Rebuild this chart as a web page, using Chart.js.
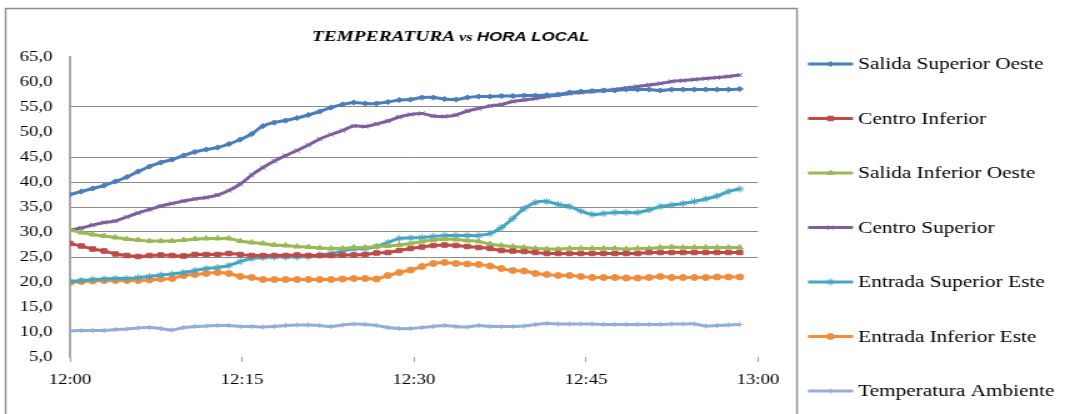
<!DOCTYPE html>
<html>
<head>
<meta charset="utf-8">
<title>Temperatura vs Hora Local</title>
<script src="https://cdn.jsdelivr.net/npm/chart.js@4.4.0/dist/chart.umd.min.js"></script>
<style>
  html, body { margin: 0; padding: 0; background: #fff; overflow: hidden; }
  canvas { display: block; }
</style>
</head>
<body>
<!-- The drawing is made on a narrower canvas and widened by CSS, giving the wide lettering of the original report figure -->
<canvas id="chart" width="856" height="414" style="width:1070px;height:414px"></canvas>
<script>
// Logged readings, one per logger interval, starting at 12:00
const LOG_INTERVAL_MIN = 0.99;

const salidaSuperiorOeste = [
  37.5, 38.1, 38.7, 39.3, 40.1, 41.0, 42.1, 43.1, 43.9, 44.5,
  45.3, 46.0, 46.5, 46.9, 47.6, 48.5, 49.6, 51.2, 51.9, 52.3,
  52.8, 53.4, 54.1, 54.9, 55.5, 55.9, 55.7, 55.7, 56.0, 56.4,
  56.5, 56.9, 56.9, 56.6, 56.5, 56.9, 57.1, 57.1, 57.2, 57.2,
  57.3, 57.3, 57.4, 57.5, 57.9, 58.1, 58.2, 58.3, 58.3, 58.5,
  58.5, 58.5, 58.3, 58.5, 58.5, 58.5, 58.5, 58.5, 58.5, 58.6
];
const centroInferior = [
  27.7, 27.2, 26.6, 26.2, 25.6, 25.3, 25.1, 25.3, 25.4, 25.3,
  25.2, 25.5, 25.5, 25.5, 25.7, 25.5, 25.3, 25.3, 25.3, 25.3,
  25.4, 25.3, 25.3, 25.3, 25.4, 25.4, 25.5, 25.8, 25.9, 26.3,
  26.7, 27.0, 27.3, 27.4, 27.3, 27.1, 26.9, 26.7, 26.3, 26.2,
  26.1, 25.9, 25.7, 25.7, 25.7, 25.7, 25.7, 25.7, 25.7, 25.7,
  25.7, 25.9, 25.9, 25.9, 25.9, 25.9, 25.9, 25.9, 25.9, 25.9
];
const salidaInferiorOeste = [
  30.4, 29.9, 29.5, 29.2, 28.9, 28.6, 28.4, 28.2, 28.2, 28.2,
  28.4, 28.6, 28.7, 28.7, 28.7, 28.2, 27.9, 27.7, 27.4, 27.3,
  27.1, 27.0, 26.8, 26.7, 26.7, 26.9, 26.9, 27.1, 27.2, 27.4,
  27.7, 28.1, 28.4, 28.6, 28.5, 28.3, 28.1, 27.6, 27.3, 27.1,
  26.9, 26.7, 26.6, 26.6, 26.7, 26.7, 26.7, 26.7, 26.7, 26.6,
  26.7, 26.7, 26.9, 27.0, 26.9, 26.9, 26.9, 26.9, 26.9, 26.9
];
const centroSuperior = [
  30.4, 30.8, 31.4, 31.9, 32.2, 33.0, 33.8, 34.5, 35.2, 35.7,
  36.2, 36.6, 36.9, 37.4, 38.3, 39.6, 41.4, 42.9, 44.2, 45.3,
  46.3, 47.4, 48.6, 49.5, 50.3, 51.2, 51.1, 51.6, 52.2, 53.0,
  53.5, 53.7, 53.2, 53.1, 53.4, 54.2, 54.7, 55.2, 55.5, 56.1,
  56.4, 56.7, 57.1, 57.4, 57.7, 57.9, 58.1, 58.3, 58.5, 58.8,
  59.1, 59.4, 59.7, 60.1, 60.3, 60.5, 60.7, 60.9, 61.1, 61.4
];
const entradaSuperiorEste = [
  20.1, 20.3, 20.5, 20.6, 20.7, 20.7, 20.9, 21.1, 21.4, 21.6,
  21.9, 22.3, 22.7, 22.9, 23.3, 24.1, 24.7, 24.9, 25.0, 25.0,
  25.0, 25.1, 25.4, 25.7, 26.2, 26.6, 26.7, 27.1, 27.9, 28.7,
  28.8, 28.9, 29.1, 29.3, 29.3, 29.3, 29.3, 29.7, 30.9, 32.7,
  34.7, 35.9, 36.1, 35.5, 35.1, 34.2, 33.5, 33.7, 33.9, 33.9,
  33.9, 34.4, 35.1, 35.4, 35.7, 36.1, 36.6, 37.2, 38.1, 38.6
];
const entradaInferiorEste = [
  19.9, 20.1, 20.2, 20.3, 20.3, 20.3, 20.3, 20.4, 20.6, 20.7,
  21.3, 21.5, 21.7, 21.9, 21.7, 21.1, 20.9, 20.5, 20.5, 20.5,
  20.5, 20.5, 20.5, 20.5, 20.6, 20.7, 20.7, 20.6, 21.3, 21.9,
  22.4, 23.1, 23.7, 23.9, 23.7, 23.6, 23.5, 23.2, 22.7, 22.3,
  22.2, 21.7, 21.5, 21.3, 21.3, 21.1, 20.9, 20.9, 20.9, 20.8,
  20.8, 20.9, 21.1, 20.9, 20.9, 20.9, 20.9, 21.0, 21.0, 21.0
];
const temperaturaAmbiente = [
  10.2, 10.3, 10.3, 10.3, 10.5, 10.6, 10.8, 10.9, 10.7, 10.4,
  10.9, 11.1, 11.2, 11.3, 11.3, 11.1, 11.1, 11.0, 11.1, 11.3,
  11.4, 11.4, 11.3, 11.1, 11.4, 11.6, 11.5, 11.3, 10.9, 10.7,
  10.7, 10.9, 11.1, 11.3, 11.1, 11.0, 11.3, 11.1, 11.1, 11.1,
  11.2, 11.5, 11.7, 11.6, 11.6, 11.6, 11.6, 11.5, 11.5, 11.5,
  11.5, 11.5, 11.5, 11.6, 11.6, 11.6, 11.2, 11.3, 11.4, 11.5
];

const seriesNames = [
  'Salida Superior Oeste',
  'Centro Inferior',
  'Salida Inferior Oeste',
  'Centro Superior',
  'Entrada Superior Este',
  'Entrada Inferior Este',
  'Temperatura Ambiente'
];
const seriesValues = [
  salidaSuperiorOeste, centroInferior, salidaInferiorOeste, centroSuperior,
  entradaSuperiorEste, entradaInferiorEste, temperaturaAmbiente
];

// Axis labels: minutes after 12:00 every quarter hour
const hourTicks = ['12:00', '12:15', '12:30', '12:45', '13:00'];

// Styling
const seriesColors = ['#4A7EBB', '#BE4B48', '#98B954', '#7D5FA0', '#45A6C2', '#F08C3C', '#93AED6'];
const seriesMarkers = ['rectRot', 'rect', 'triangle', 'crossRot', 'star', 'circle', 'cross'];
const seriesMarkerSize = [2.6, 3.2, 3, 3, 3.4, 3, 2.5];
const visibleGridValues = [25, 30, 35, 40, 45, 55];

const serifFont = '"Liberation Serif", "Times New Roman", serif';

const datasets = seriesValues.map((vals, s) => ({
  label: seriesNames[s],
  data: vals.map((v, i) => ({ x: i * LOG_INTERVAL_MIN, y: v })),
  borderColor: seriesColors[s],
  backgroundColor: seriesColors[s],
  pointBackgroundColor: seriesColors[s],
  pointBorderColor: seriesColors[s],
  pointStyle: seriesMarkers[s],
  pointRadius: seriesMarkerSize[s],
  pointBorderWidth: 1,
  borderWidth: 3,
  tension: 0.35,
  fill: false
}));

const decor = {
  id: 'decor',
  beforeDraw(chart) {
    const ctx = chart.ctx;
    ctx.save();
    ctx.fillStyle = '#ffffff';
    ctx.fillRect(0, 0, chart.width, chart.height);
    ctx.strokeStyle = '#8e8e8e';
    ctx.lineWidth = 1.4;
    ctx.beginPath();
    ctx.moveTo(4.5, 420);
    ctx.lineTo(4.5, 8.5);
    ctx.lineTo(637.6, 8.5);
    ctx.lineTo(637.6, 420);
    ctx.stroke();
    ctx.restore();
  },
  afterDraw(chart) {
    const ctx = chart.ctx;
    ctx.save();

    // Title with mixed faces
    const parts = [
      { t: 'TEMPERATURA', f: 'italic bold 15.5px ' + serifFont },
      { t: ' vs ', f: 'italic bold 13px ' + serifFont },
      { t: 'HORA LOCAL', f: 'italic bold 13.5px "Liberation Sans", Arial, sans-serif' }
    ];
    let tx = 249.5;
    ctx.fillStyle = '#000';
    ctx.textBaseline = 'alphabetic';
    ctx.textAlign = 'left';
    parts.forEach(p => {
      ctx.font = p.f;
      ctx.fillText(p.t, tx, 41);
      tx += ctx.measureText(p.t).width;
    });

    // Legend: line sample with marker, then the series name
    const lx0 = 646.4, lx1 = 682.4, textX = 686.6;
    chart.data.datasets.forEach((ds, i) => {
      const cy = 64 + i * 54.5;
      ctx.strokeStyle = ds.borderColor;
      ctx.lineWidth = 2.8;
      ctx.beginPath();
      ctx.moveTo(lx0, cy);
      ctx.lineTo(lx1, cy);
      ctx.stroke();
      ctx.fillStyle = ds.pointBackgroundColor;
      ctx.strokeStyle = ds.pointBorderColor;
      ctx.lineWidth = 1;
      if (Chart.helpers && Chart.helpers.drawPoint) {
        Chart.helpers.drawPoint(ctx, {
          pointStyle: ds.pointStyle, radius: ds.pointRadius, rotation: 0, borderWidth: 1
        }, (lx0 + lx1) / 2, cy);
      }
      ctx.fillStyle = '#000';
      ctx.font = '17px ' + serifFont;
      ctx.textBaseline = 'middle';
      ctx.fillText(ds.label, textX, cy + 1);
    });
    ctx.restore();
  }
};

new Chart(document.getElementById('chart'), {
  type: 'line',
  data: { datasets },
  plugins: [decor],
  options: {
    responsive: false,
    animation: false,
    devicePixelRatio: 1,
    layout: { padding: { top: 57, right: 249.6, bottom: 0, left: 0 } },
    plugins: {
      legend: { display: false },
      title: { display: false },
      tooltip: { enabled: false }
    },
    scales: {
      x: {
        type: 'linear',
        min: 0,
        max: 60,
        afterFit(scale) { scale.height = 57; },
        border: { display: false },
        grid: {
          drawOnChartArea: false,
          drawTicks: true,
          tickLength: 5,
          tickColor: '#a0a0a0',
          tickWidth: 1
        },
        ticks: {
          stepSize: 15,
          padding: 9,
          color: '#000',
          font: { family: serifFont, size: 15 },
          maxRotation: 0,
          callback: (v, idx) => hourTicks[idx]
        }
      },
      y: {
        min: 5,
        max: 65,
        afterFit(scale) { scale.width = 56; },
        border: { display: true, color: '#a8a8a8', width: 2 },
        grid: {
          drawTicks: false,
          lineWidth: 1,
          color: ctx => (ctx.tick && visibleGridValues.includes(ctx.tick.value)) ? '#8a8a8a' : 'rgba(0,0,0,0)'
        },
        ticks: {
          stepSize: 5,
          padding: 14,
          color: '#000',
          font: { family: serifFont, size: 15 },
          callback: v => v.toFixed(1).replace('.', ',')
        }
      }
    }
  }
});
</script>
</body>
</html>
